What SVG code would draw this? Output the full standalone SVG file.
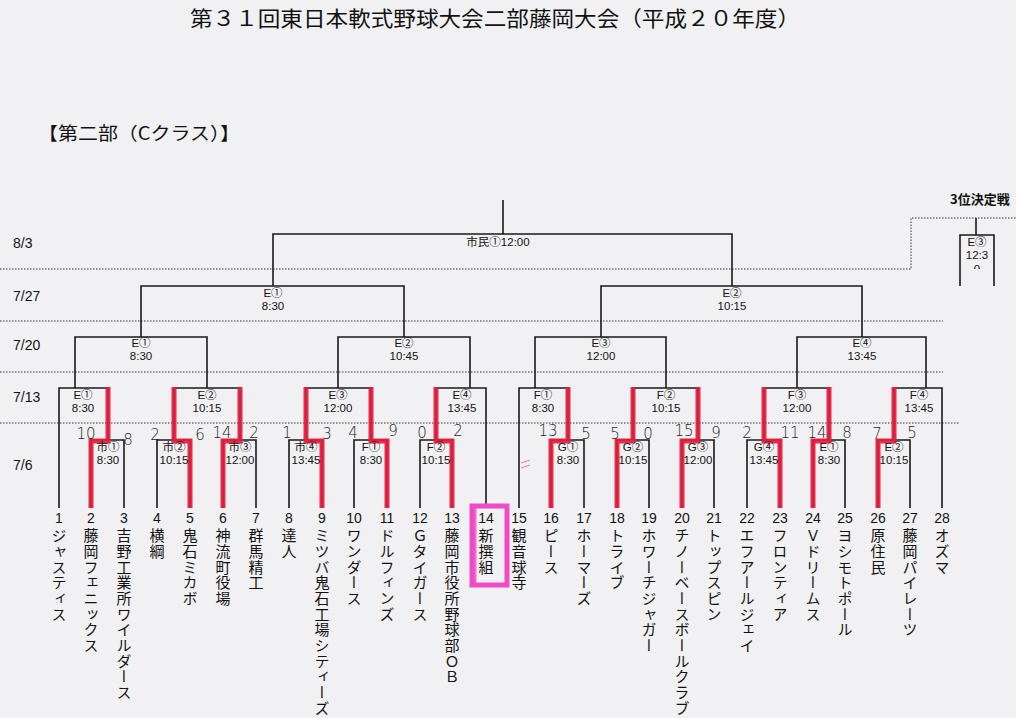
<svg xmlns="http://www.w3.org/2000/svg" width="1016" height="718" viewBox="0 0 1016 718">
<style>
.bg{fill:#f1f1f3}
.ln{fill:none;stroke:#1a1a1a;stroke-width:1.6}
.dot{fill:none;stroke:#333;stroke-width:1;stroke-dasharray:1.5 1.5}
.red{fill:none;stroke:#e41d3d;stroke-width:5;stroke-linejoin:miter;opacity:0.92}
.pink{fill:none;stroke:#f04ac6;stroke-width:5}
.ttl{font-family:"Noto Sans CJK JP","Liberation Sans",sans-serif;fill:#111}
.lv{font-family:"Liberation Sans","Noto Sans CJK JP",sans-serif;font-size:14px;fill:#111}
.ml{font-family:"Liberation Sans","Noto Sans CJK JP",sans-serif;font-size:11.5px;fill:#111;text-anchor:middle}
.num{font-family:"Liberation Sans","Noto Sans CJK JP",sans-serif;font-size:14px;fill:#111;text-anchor:middle}
.nm{font-family:"Noto Sans CJK JP",sans-serif;font-size:15px;fill:#111;writing-mode:vertical-rl;text-orientation:upright;letter-spacing:0.7px}
.sc{font-family:"DejaVu Sans",sans-serif;font-size:15px;font-weight:300;fill:#1e1e1e;text-anchor:middle}
</style>
<defs>
<clipPath id="c3"><rect x="955" y="230" width="45" height="39"/></clipPath>
</defs>
<rect class="bg" x="0" y="0" width="1016" height="718"/>

<g id="title">
<text class="ttl" x="190" y="26" font-size="21" textLength="610" lengthAdjust="spacingAndGlyphs">第３１回東日本軟式野球大会二部藤岡大会（平成２０年度）</text>
<text class="ttl" x="38" y="140" font-size="18" textLength="202" lengthAdjust="spacingAndGlyphs">【第二部（Cクラス）】</text>
<text class="ttl" x="950" y="204" font-size="13" font-weight="bold">3位決定戦</text>
</g>

<g id="levels">
<text class="lv" x="13" y="248">8/3</text>
<text class="lv" x="13" y="301">7/27</text>
<text class="lv" x="13" y="350">7/20</text>
<text class="lv" x="13" y="402">7/13</text>
<text class="lv" x="13" y="470">7/6</text>
<path class="dot" d="M0,269 H911 V218 H1016"/>
<path class="dot" d="M0,321 H943"/>
<path class="dot" d="M0,372 H943"/>
<path class="dot" d="M0,423 H959"/>
</g>

<g id="connectors">
<path class="ln" d="M503,200 V234 M273,286 V234 H732 V286"/>
<path class="ln" d="M141,337 V286 H404 V337"/>
<path class="ln" d="M601,337 V286 H862 V337"/>
<path class="ln" d="M75,388 V337 H207 V388"/>
<path class="ln" d="M338,388 V337 H470 V388"/>
<path class="ln" d="M535,388 V337 H666 V388"/>
<path class="ln" d="M797,388 V337 H926 V388"/>
<path class="ln" d="M59,508 V388 H108 V440"/>
<path class="ln" d="M174,440 V388 H240 V440"/>
<path class="ln" d="M306,440 V388 H371 V440"/>
<path class="ln" d="M436,440 V388 H486 V508"/>
<path class="ln" d="M519,508 V388 H568 V440"/>
<path class="ln" d="M633,440 V388 H698 V440"/>
<path class="ln" d="M764,440 V388 H829 V440"/>
<path class="ln" d="M894,440 V388 H942 V508"/>
<path class="ln" d="M91,508 V440 H124 V508"/>
<path class="ln" d="M157,508 V440 H190 V508"/>
<path class="ln" d="M223,508 V440 H256 V508"/>
<path class="ln" d="M289,508 V440 H322 V508"/>
<path class="ln" d="M354,508 V440 H387 V508"/>
<path class="ln" d="M420,508 V440 H452 V508"/>
<path class="ln" d="M551,508 V440 H584 V508"/>
<path class="ln" d="M617,508 V440 H649 V508"/>
<path class="ln" d="M682,508 V440 H714 V508"/>
<path class="ln" d="M747,508 V440 H780 V508"/>
<path class="ln" d="M813,508 V440 H845 V508"/>
<path class="ln" d="M878,508 V440 H910 V508"/>
<path class="ln" d="M976,218 V235 M960,286 V235 H994 V286"/>
</g>

<g id="highlights">
<path class="red" d="M91,508 V441 H108 V387"/>
<path class="red" d="M190,508 V441 H174 V387"/>
<path class="red" d="M223,508 V441 H240 V387"/>
<path class="red" d="M322,508 V441 H306 V387"/>
<path class="red" d="M387,508 V441 H371 V387"/>
<path class="red" d="M452,508 V441 H436 V387"/>
<path class="red" d="M551,508 V441 H568 V387"/>
<path class="red" d="M617,508 V441 H633 V387"/>
<path class="red" d="M682,508 V441 H698 V387"/>
<path class="red" d="M780,508 V441 H764 V387"/>
<path class="red" d="M813,508 V441 H829 V387"/>
<path class="red" d="M878,508 V441 H894 V387"/>
<path class="pink" d="M472,506 H507 V585 H472 Z"/>
<path class="pink" d="M474,508 V584" stroke-width="8" opacity="0.8"/>
<path d="M521,463 L530,460 M521,468 L530,465" stroke="#f080c0" stroke-width="1.2" fill="none"/>
</g>

<g id="matches">
<g id="m-final"><text class="ml" x="498" y="246">市民①12:00</text></g>
<g id="m727-1"><text class="ml" x="273" y="297">E①</text><text class="ml" x="273" y="310">8:30</text></g>
<g id="m727-2"><text class="ml" x="732" y="297">E②</text><text class="ml" x="732" y="310">10:15</text></g>
<g id="m720-1"><text class="ml" x="141" y="347">E①</text><text class="ml" x="141" y="360">8:30</text></g>
<g id="m720-2"><text class="ml" x="404" y="347">E②</text><text class="ml" x="404" y="360">10:45</text></g>
<g id="m720-3"><text class="ml" x="601" y="347">E③</text><text class="ml" x="601" y="360">12:00</text></g>
<g id="m720-4"><text class="ml" x="862" y="347">E④</text><text class="ml" x="862" y="360">13:45</text></g>
<g id="m713-1"><text class="ml" x="83" y="399">E①</text><text class="ml" x="83" y="412">8:30</text></g>
<g id="m713-2"><text class="ml" x="207" y="399">E②</text><text class="ml" x="207" y="412">10:15</text></g>
<g id="m713-3"><text class="ml" x="338" y="399">E③</text><text class="ml" x="338" y="412">12:00</text></g>
<g id="m713-4"><text class="ml" x="462" y="399">E④</text><text class="ml" x="462" y="412">13:45</text></g>
<g id="m713-5"><text class="ml" x="543" y="399">F①</text><text class="ml" x="543" y="412">8:30</text></g>
<g id="m713-6"><text class="ml" x="666" y="399">F②</text><text class="ml" x="666" y="412">10:15</text></g>
<g id="m713-7"><text class="ml" x="797" y="399">F③</text><text class="ml" x="797" y="412">12:00</text></g>
<g id="m713-8"><text class="ml" x="919" y="399">F④</text><text class="ml" x="919" y="412">13:45</text></g>
<g id="m76-1"><text class="ml" x="108" y="451">市①</text><text class="ml" x="108" y="464">8:30</text></g>
<g id="m76-2"><text class="ml" x="174" y="451">市②</text><text class="ml" x="174" y="464">10:15</text></g>
<g id="m76-3"><text class="ml" x="240" y="451">市③</text><text class="ml" x="240" y="464">12:00</text></g>
<g id="m76-4"><text class="ml" x="306" y="451">市④</text><text class="ml" x="306" y="464">13:45</text></g>
<g id="m76-5"><text class="ml" x="371" y="451">F①</text><text class="ml" x="371" y="464">8:30</text></g>
<g id="m76-6"><text class="ml" x="436" y="451">F②</text><text class="ml" x="436" y="464">10:15</text></g>
<g id="m76-7"><text class="ml" x="568" y="451">G①</text><text class="ml" x="568" y="464">8:30</text></g>
<g id="m76-8"><text class="ml" x="633" y="451">G②</text><text class="ml" x="633" y="464">10:15</text></g>
<g id="m76-9"><text class="ml" x="698" y="451">G③</text><text class="ml" x="698" y="464">12:00</text></g>
<g id="m76-10"><text class="ml" x="764" y="451">G④</text><text class="ml" x="764" y="464">13:45</text></g>
<g id="m76-11"><text class="ml" x="829" y="451">E①</text><text class="ml" x="829" y="464">8:30</text></g>
<g id="m76-12"><text class="ml" x="894" y="451">E②</text><text class="ml" x="894" y="464">10:15</text></g>
<g id="m-3rd" clip-path="url(#c3)"><text class="ml" x="977" y="246">E③</text><text class="ml" x="977" y="259">12:3</text><text class="ml" x="977" y="273">0</text></g>
</g>

<g id="scores">
<text class="sc" x="86" y="439">10</text><text class="sc" x="128" y="445">8</text>
<text class="sc" x="155" y="440">2</text><text class="sc" x="200" y="440">6</text>
<text class="sc" x="222" y="438">14</text><text class="sc" x="254" y="438">2</text>
<text class="sc" x="287" y="438">1</text><text class="sc" x="327" y="439">3</text>
<text class="sc" x="353" y="438">4</text><text class="sc" x="393" y="436">9</text>
<text class="sc" x="422" y="438">0</text><text class="sc" x="458" y="436">2</text>
<text class="sc" x="548" y="436">13</text><text class="sc" x="586" y="439">5</text>
<text class="sc" x="615" y="439">5</text><text class="sc" x="648" y="439">0</text>
<text class="sc" x="684" y="436">15</text><text class="sc" x="716" y="438">9</text>
<text class="sc" x="747" y="438">2</text><text class="sc" x="790" y="438">11</text>
<text class="sc" x="817" y="438">14</text><text class="sc" x="847" y="438">8</text>
<text class="sc" x="877" y="439">7</text><text class="sc" x="912" y="438">5</text>
</g>

<g id="teams">
<g id="t1"><text class="num" x="59" y="523">1</text><text class="nm" x="59" y="528">ジャスティス</text></g>
<g id="t2"><text class="num" x="91" y="523">2</text><text class="nm" x="91" y="528">藤岡フェニックス</text></g>
<g id="t3"><text class="num" x="124" y="523">3</text><text class="nm" x="124" y="528">吉野工業所ワイルダース</text></g>
<g id="t4"><text class="num" x="157" y="523">4</text><text class="nm" x="157" y="528">横綱</text></g>
<g id="t5"><text class="num" x="190" y="523">5</text><text class="nm" x="190" y="528">鬼石ミカボ</text></g>
<g id="t6"><text class="num" x="223" y="523">6</text><text class="nm" x="223" y="528">神流町役場</text></g>
<g id="t7"><text class="num" x="256" y="523">7</text><text class="nm" x="256" y="528">群馬精工</text></g>
<g id="t8"><text class="num" x="289" y="523">8</text><text class="nm" x="289" y="528">達人</text></g>
<g id="t9"><text class="num" x="322" y="523">9</text><text class="nm" x="322" y="528">ミツバ鬼石工場シティーズ</text></g>
<g id="t10"><text class="num" x="354" y="523">10</text><text class="nm" x="354" y="528">ワンダース</text></g>
<g id="t11"><text class="num" x="387" y="523">11</text><text class="nm" x="387" y="528">ドルフィンズ</text></g>
<g id="t12"><text class="num" x="420" y="523">12</text><text class="nm" x="420" y="528">Ｇタイガース</text></g>
<g id="t13"><text class="num" x="452" y="523">13</text><text class="nm" x="452" y="528">藤岡市役所野球部ＯＢ</text></g>
<g id="t14"><text class="num" x="486" y="523">14</text><text class="nm" x="486" y="528">新撰組</text></g>
<g id="t15"><text class="num" x="519" y="523">15</text><text class="nm" x="519" y="528">観音球寺</text></g>
<g id="t16"><text class="num" x="551" y="523">16</text><text class="nm" x="551" y="528">ピース</text></g>
<g id="t17"><text class="num" x="584" y="523">17</text><text class="nm" x="584" y="528">ホーマーズ</text></g>
<g id="t18"><text class="num" x="617" y="523">18</text><text class="nm" x="617" y="528">トライブ</text></g>
<g id="t19"><text class="num" x="649" y="523">19</text><text class="nm" x="649" y="528">ホワーチジャガー</text></g>
<g id="t20"><text class="num" x="682" y="523">20</text><text class="nm" x="682" y="528">チノーベースボールクラブ</text></g>
<g id="t21"><text class="num" x="714" y="523">21</text><text class="nm" x="714" y="528">トップスピン</text></g>
<g id="t22"><text class="num" x="747" y="523">22</text><text class="nm" x="747" y="528">エフアールジェイ</text></g>
<g id="t23"><text class="num" x="780" y="523">23</text><text class="nm" x="780" y="528">フロンティア</text></g>
<g id="t24"><text class="num" x="813" y="523">24</text><text class="nm" x="813" y="528">Ｖドリームス</text></g>
<g id="t25"><text class="num" x="845" y="523">25</text><text class="nm" x="845" y="528">ヨシモトポール</text></g>
<g id="t26"><text class="num" x="878" y="523">26</text><text class="nm" x="878" y="528">原住民</text></g>
<g id="t27"><text class="num" x="910" y="523">27</text><text class="nm" x="910" y="528">藤岡パイレーツ</text></g>
<g id="t28"><text class="num" x="942" y="523">28</text><text class="nm" x="942" y="528">オズマ</text></g>
</g>
</svg>
